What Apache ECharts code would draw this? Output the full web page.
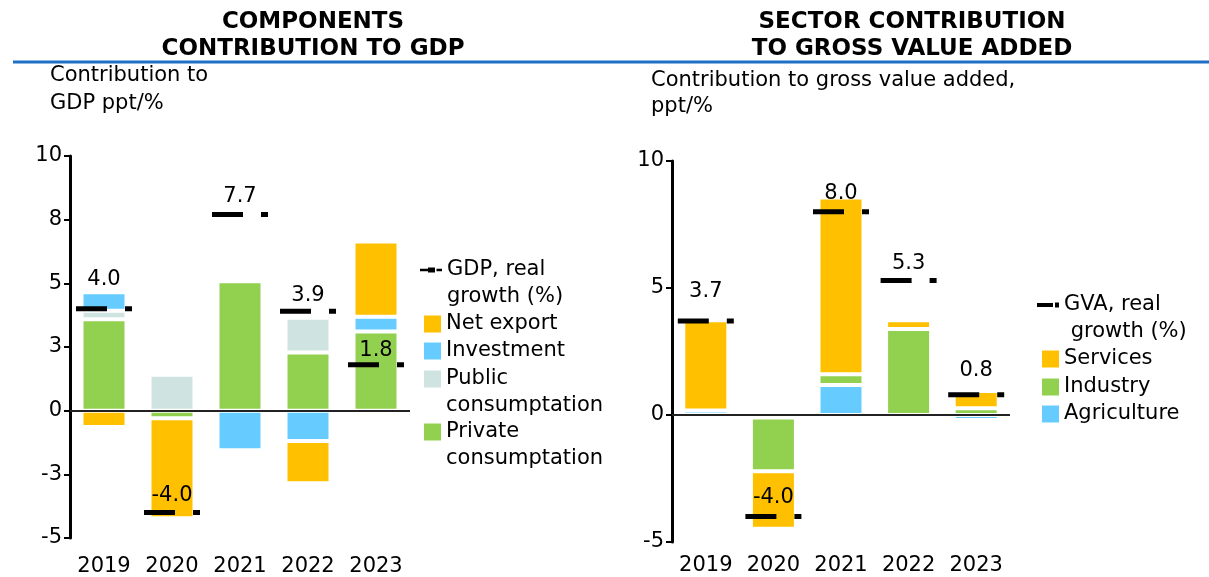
<!DOCTYPE html>
<html>
<head>
<meta charset="utf-8">
<title>Contribution to GDP and GVA</title>
<script src="https://cdn.jsdelivr.net/npm/echarts@6/dist/echarts.min.js"></script>
<style>
  html, body { margin: 0; padding: 0; background: #fff; }
  #chart { width: 1209px; height: 577px; }
</style>
</head>
<body>
<div id="chart"></div>
<script>
// years, same on both panels
const years = ["2019", "2020", "2021", "2022", "2023"];

// components contribution to GDP, ppt
const privateCons = [3.59, -0.30, 5.08, 2.28, 3.11];
const publicCons = [0.33, 1.41, 0.15, 1.37, 0];
const investment = [0.73, 0.08, -1.55, -1.19, 0.58];
const netExport = [-0.64, -3.92, 0.12, -1.66, 2.95];
const gdpGrowth = [4.0, -4.0, 7.7, 3.9, 1.8];

// sector contribution to gross value added, ppt
const agriculture = [0.18, -0.10, 1.18, 0, -0.2];
const industry = [0, -2.11, 0.42, 3.39, 0.27];
const services = [3.55, -2.27, 6.96, 0.34, 0.67];
const gvaGrowth = [3.7, -4.0, 8.0, 5.3, 0.8];

// y ticks (left panel labels are rounded in the original)
const gdpTicks = [-5, -2.5, 0, 2.5, 5, 7.5, 10];
const gdpTickLabels = ["-5", "-3", "0", "3", "5", "8", "10"];
const gvaTicks = [-5, 0, 5, 10];
const gvaTickLabels = ["-5", "0", "5", "10"];

const ORANGE = "#FFC000";
const BLUE = "#66CCFF";
const GREEN = "#92D050";
const GREY = "#CFE3E0";
const FONT = "DejaVu Sans";

// growth marker: long dash, gap, short dash
const MARKER = "path://M0,0H31V1H0Z M49,0H56V1H49Z";
const GDP_ICON = "path://M0,1.2H8V3.8H0Z M8,0H15V5H8Z M16.5,1.2H22V3.8H16.5Z";
const GVA_ICON = "path://M0,0.5H16V4.5H0Z M18,0H22V5H18Z";

const chart = echarts.init(document.getElementById("chart"));

function bar(name, data, color, idx, stack) {
  return {
    name: name,
    type: "bar",
    xAxisIndex: idx,
    yAxisIndex: idx,
    stack: stack,
    data: data,
    barWidth: 45,
    itemStyle: { color: color, borderColor: "#fff", borderWidth: 2 },
    emphasis: { disabled: true }
  };
}

function zeroLine() {
  return {
    silent: true,
    symbol: "none",
    label: { show: false },
    lineStyle: { color: "#222", width: 2, type: "solid" },
    emphasis: { disabled: true },
    data: [{ yAxis: 0 }]
  };
}

function growth(name, data, idx, lift) {
  return {
    name: name,
    type: "scatter",
    xAxisIndex: idx,
    yAxisIndex: idx,
    symbol: MARKER,
    symbolSize: [56, 5],
    itemStyle: { color: "#000", opacity: 1 },
    z: 6,
    emphasis: { disabled: true },
    label: {
      show: true,
      position: "top",
      fontSize: 21,
      color: "#000",
      formatter: function (p) { return p.value.toFixed(1); }
    },
    data: data.map(function (v, i) {
      return { value: v, label: { distance: lift[i] } };
    })
  };
}

// one legend per entry; two-line labels get an empty first line so
// the icon lines up with the first visible line
function legendItem(name, text, icon, left, cy, w) {
  const lines = text.split("\n").length;
  const label = lines > 1 ? "\n" + text : text;
  const h = icon === "rect" ? 17 : 5;
  return {
    left: left,
    top: cy - 13.5 * (2 * lines - 1),
    orient: "vertical",
    padding: 0,
    selectedMode: false,
    itemWidth: w,
    itemHeight: h,
    symbolKeepAspect: false,
    itemStyle: { borderWidth: 0, opacity: 1 },
    formatter: label,
    textStyle: { fontFamily: FONT, fontSize: 21, color: "#000", lineHeight: 27 },
    data: [{ name: name, icon: icon }]
  };
}

function valueAxis(idx, ticks, labels, interval) {
  return {
    gridIndex: idx,
    type: "value",
    min: -5,
    max: 10,
    interval: interval,
    axisLine: { show: true, lineStyle: { color: "#000", width: 3 } },
    axisTick: { show: true, length: 6, lineStyle: { color: "#000", width: 2 } },
    splitLine: { show: false },
    axisLabel: {
      fontSize: 21,
      color: "#000",
      margin: 8,
      formatter: function (v) { return labels[ticks.indexOf(v)]; }
    }
  };
}

function categoryAxis(idx, margin) {
  return {
    gridIndex: idx,
    type: "category",
    data: years,
    axisLine: { show: false },
    axisTick: { show: false },
    axisLabel: { fontSize: 21, color: "#000", margin: margin, interval: 0 }
  };
}

const option = {
  animation: false,
  textStyle: { fontFamily: FONT },
  title: [
    {
      text: "COMPONENTS\nCONTRIBUTION TO GDP",
      left: 313, top: 9, padding: 0, textAlign: "center",
      textStyle: { fontSize: 23, fontWeight: "bold", lineHeight: 27, color: "#000" }
    },
    {
      text: "SECTOR CONTRIBUTION\nTO GROSS VALUE ADDED",
      left: 912, top: 9, padding: 0, textAlign: "center",
      textStyle: { fontSize: 23, fontWeight: "bold", lineHeight: 27, color: "#000" }
    },
    {
      text: "Contribution to\nGDP ppt/%",
      left: 50, top: 62, padding: 0,
      textStyle: { fontSize: 21, fontWeight: "normal", lineHeight: 28, color: "#000" }
    },
    {
      text: "Contribution to gross value added,\nppt/%",
      left: 651, top: 68, padding: 0,
      textStyle: { fontSize: 21, fontWeight: "normal", lineHeight: 26, color: "#000" }
    }
  ],
  graphic: [
    {
      type: "line",
      silent: true,
      shape: { x1: 13, y1: 62, x2: 1209, y2: 62 },
      style: { stroke: "#1F6FC5", lineWidth: 3 }
    }
  ],
  legend: [
    legendItem("GDP, real growth (%)", "GDP, real\ngrowth (%)", GDP_ICON, 420, 270, 22),
    legendItem("Net export", "Net export", "rect", 424, 324, 17),
    legendItem("Investment", "Investment", "rect", 424, 351, 17),
    legendItem("Public consumptation", "Public\nconsumptation", "rect", 424, 379, 17),
    legendItem("Private consumptation", "Private\nconsumptation", "rect", 424, 432, 17),
    legendItem("GVA, real growth (%)", "GVA, real\n growth (%)", GVA_ICON, 1037, 305, 22),
    legendItem("Services", "Services", "rect", 1042, 359, 17),
    legendItem("Industry", "Industry", "rect", 1042, 387, 17),
    legendItem("Agriculture", "Agriculture", "rect", 1042, 414, 17)
  ],
  grid: [
    { left: 70, width: 340, top: 156, height: 383 },
    { left: 672, width: 338, top: 161, height: 381 }
  ],
  xAxis: [categoryAxis(0, 18), categoryAxis(1, 13)],
  yAxis: [
    valueAxis(0, gdpTicks, gdpTickLabels, 2.5),
    valueAxis(1, gvaTicks, gvaTickLabels, 5)
  ],
  series: [
    bar("Private consumptation", privateCons, GREEN, 0, "gdp"),
    bar("Public consumptation", publicCons, GREY, 0, "gdp"),
    bar("Investment", investment, BLUE, 0, "gdp"),
    Object.assign(bar("Net export", netExport, ORANGE, 0, "gdp"), { markLine: zeroLine() }),
    growth("GDP, real growth (%)", gdpGrowth, 0, [16, 4, 5, 3, 1]),

    bar("Agriculture", agriculture, BLUE, 1, "gva"),
    bar("Industry", industry, GREEN, 1, "gva"),
    Object.assign(bar("Services", services, ORANGE, 1, "gva"), { markLine: zeroLine() }),
    growth("GVA, real growth (%)", gvaGrowth, 1, [16, 6, 5, 4, 11])
  ]
};

chart.setOption(option);
</script>
</body>
</html>
